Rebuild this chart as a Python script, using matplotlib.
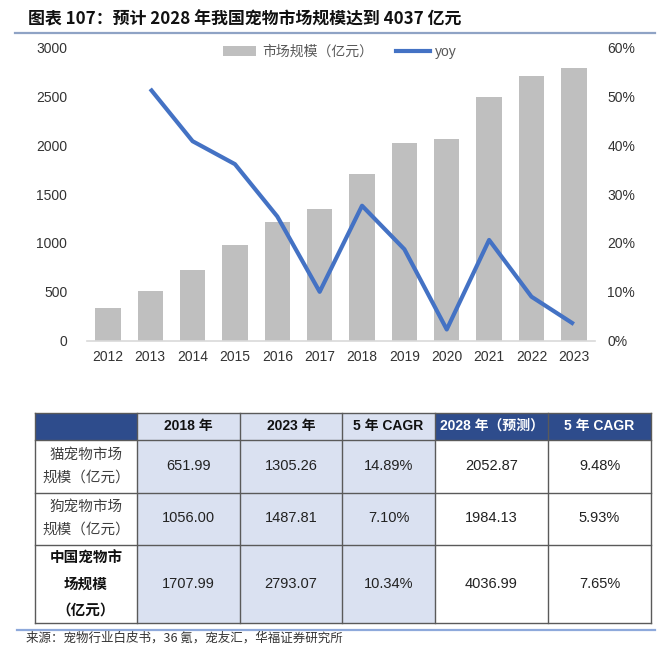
import matplotlib
matplotlib.use('Agg')
import matplotlib.pyplot as plt
from matplotlib.patches import Rectangle, Patch
from matplotlib.lines import Line2D
from matplotlib.ticker import PercentFormatter

plt.rcParams['font.family'] = ['Liberation Sans', 'Noto Sans CJK SC', 'DejaVu Sans']

# ---------------- data ----------------
title = "图表 107：预计 2028 年我国宠物市场规模达到 4037 亿元"
source = "来源：宠物行业白皮书，36 氪，宠友汇，华福证券研究所"

years = ['2012', '2013', '2014', '2015', '2016', '2017',
         '2018', '2019', '2020', '2021', '2022', '2023']
market = [338, 510, 723, 982, 1217, 1344, 1708, 2025, 2066, 2492, 2704, 2793]
yoy_years = years[1:]
yoy = [51.5, 40.8, 36.1, 25.4, 10.0, 27.6, 18.7, 2.3, 20.6, 9.0, 3.4]
bar_label = "市场规模（亿元）"
line_label = "yoy"

table_header = ["", "2018 年", "2023 年", "5 年 CAGR", "2028 年（预测）", "5 年 CAGR"]
row_labels = ["猫宠物市场\n规模（亿元）", "狗宠物市场\n规模（亿元）", "中国宠物市\n场规模\n（亿元）"]
row_bold = [False, False, True]
v2018 = ["651.99", "1056.00", "1707.99"]
v2023 = ["1305.26", "1487.81", "2793.07"]
cagr1 = ["14.89%", "7.10%", "10.34%"]
v2028 = ["2052.87", "1984.13", "4036.99"]
cagr2 = ["9.48%", "5.93%", "7.65%"]

# ---------------- figure ----------------
W, H = 660, 649
fig = plt.figure(figsize=(W / 100, H / 100), dpi=100)
fig.patch.set_facecolor('white')

BAR = '#BFBFBF'
LINE = '#4472C4'
TXT = '#333333'

# title
fig.text(28 / W, 1 - 19 / H, title, fontsize=12.2, fontweight='bold',
         family=['Noto Sans CJK SC', 'DejaVu Sans'], ha='left', va='center', color='#111111')

# chart axes
L, R, T, B = 86.7, 595, 47.3, 340.7
ax = fig.add_axes([L / W, 1 - B / H, (R - L) / W, (B - T) / H])
x = list(range(len(years)))
ax.bar(x, market, width=0.6, color=BAR, zorder=2)
ax.set_xlim(-0.5, len(years) - 0.5)
ax.set_ylim(0, 3000)
ax.set_yticks(range(0, 3001, 500))
ax.set_xticks(x)
ax.set_xticklabels(years)
for s in ['top', 'left', 'right']:
    ax.spines[s].set_visible(False)
ax.spines['bottom'].set_color('#D9D9D9')
ax.spines['bottom'].set_linewidth(1.2)
ax.tick_params(axis='y', length=0, pad=14, labelsize=10, labelcolor=TXT)
ax.tick_params(axis='x', length=0, pad=7, labelsize=10, labelcolor=TXT)

ax2 = ax.twinx()
ax2.plot([years.index(y) for y in yoy_years], yoy, color=LINE, lw=3, solid_capstyle='butt', zorder=3)
ax2.set_ylim(0, 60)
ax2.set_yticks(range(0, 61, 10))
ax2.yaxis.set_major_formatter(PercentFormatter(xmax=100, decimals=0))
for s in ax2.spines.values():
    s.set_visible(False)
ax2.tick_params(axis='y', length=0, pad=9, labelsize=10, labelcolor=TXT)

handles = [Patch(facecolor=BAR, edgecolor='none'), Line2D([0], [0], color=LINE, lw=3)]
fig.legend(handles, [bar_label, line_label], loc='center',
           bbox_to_anchor=(340 / W, 1 - 51.7 / H), ncol=2, frameon=False,
           fontsize=10, handlelength=2.4, handleheight=0.7, handletextpad=0.4,
           columnspacing=1.7, labelcolor='#595959')

# ---------------- overlay for table and decorations ----------------
ov = fig.add_axes([0, 0, 1, 1], zorder=-1)
ov.set_xlim(0, W)
ov.set_ylim(H, 0)
ov.axis('off')

ov.plot([15, 655], [33, 33], color='#8FA3C5', lw=1.6)
ov.plot([17, 655], [629.5, 629.5], color='#8EA9DB', lw=1.6)
ov.text(26, 638.5, source, fontsize=9, color='#333333', ha='left', va='center',
        family=['Noto Sans CJK SC', 'DejaVu Sans'])

DARK = '#2E4C8C'
LIGHT = '#DAE1F1'
col_edges = [35, 137, 240, 342, 435, 548, 651]
row_edges = [412.5, 439.5, 492.5, 544.5, 622.5]
header_fill = [DARK, LIGHT, LIGHT, LIGHT, DARK, DARK]
body_fill = ['white', LIGHT, LIGHT, LIGHT, 'white', 'white']

for c in range(6):
    x0, x1 = col_edges[c], col_edges[c + 1]
    ov.add_patch(Rectangle((x0, row_edges[0]), x1 - x0, row_edges[1] - row_edges[0],
                           facecolor=header_fill[c], edgecolor='none'))
    ov.add_patch(Rectangle((x0, row_edges[1]), x1 - x0, row_edges[-1] - row_edges[1],
                           facecolor=body_fill[c], edgecolor='none'))
    cx = (x0 + x1) / 2
    cy = (row_edges[0] + row_edges[1]) / 2
    if table_header[c]:
        ov.text(cx, cy, table_header[c], fontsize=10, fontweight='bold',
                color='white' if header_fill[c] == DARK else '#111111',
                ha='center', va='center')

columns = [row_labels, v2018, v2023, cagr1, v2028, cagr2]
for r in range(3):
    cy = (row_edges[r + 1] + row_edges[r + 2]) / 2
    for c in range(6):
        cx = (col_edges[c] + col_edges[c + 1]) / 2
        txt = columns[c][r]
        if c == 0:
            ov.text(cx, cy, txt, fontsize=10.5, ha='center', va='center',
                    color='#111111' if row_bold[r] else '#404040',
                    fontweight='bold' if row_bold[r] else 'normal',
                    linespacing=1.75, family=['Noto Sans CJK SC', 'DejaVu Sans'])
        else:
            ov.text(cx, cy, txt, fontsize=10.5, ha='center', va='center', color='#222222')

# grid lines
for yv in row_edges:
    ov.plot([col_edges[0], col_edges[-1]], [yv, yv], color='#5A5A5A', lw=1)
for xv in col_edges:
    ov.plot([xv, xv], [row_edges[0], row_edges[-1]], color='#5A5A5A', lw=1)

fig.savefig('out.png', dpi=100, facecolor='white')
